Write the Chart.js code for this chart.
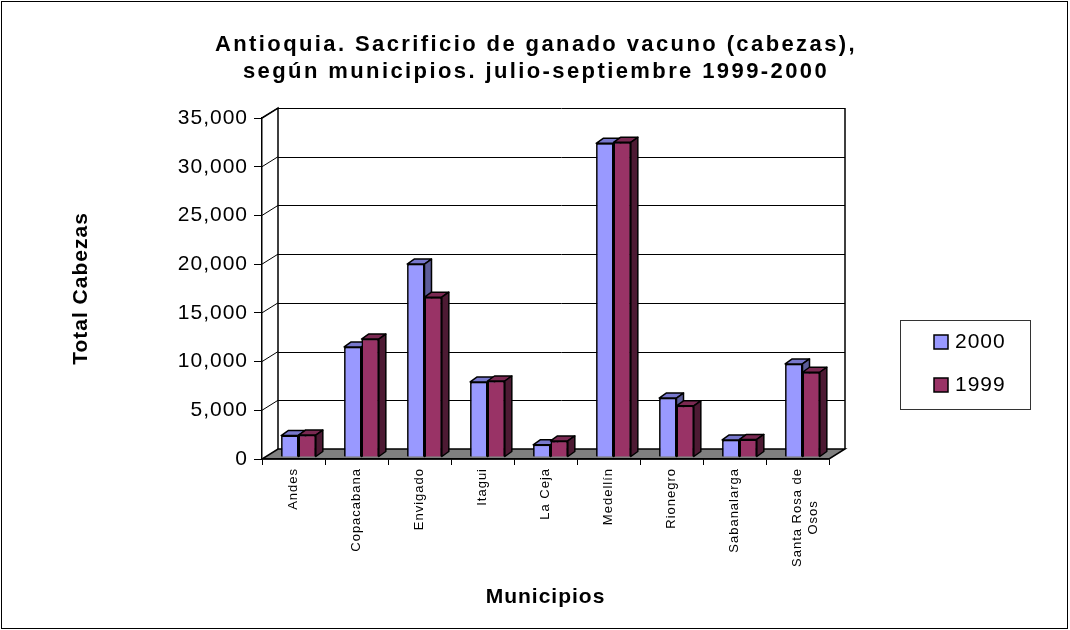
<!DOCTYPE html>
<html>
<head>
<meta charset="utf-8">
<script src="https://cdn.jsdelivr.net/npm/chart.js@4.4.1/dist/chart.umd.min.js"></script>
<style>
  html, body { margin: 0; padding: 0; background: #fff; }
  canvas { display: block; }
</style>
</head>
<body>
<canvas id="chart" width="1070" height="630"></canvas>
<script>
// ----- DATA -----
const municipios = ['Andes', 'Copacabana', 'Envigado', 'Itagui', 'La Ceja', 'Medellín', 'Rionegro', 'Sabanalarga', 'Santa Rosa de Osos'];
const cabezas2000 = [2200, 11300, 19800, 7700, 1250, 32200, 6050, 1750, 9550];
const cabezas1999 = [2250, 12100, 16400, 7800, 1650, 32300, 5250, 1800, 8700];
const seriesNames = ['2000', '1999'];
const titleLines = ['Antioquia. Sacrificio de ganado vacuno (cabezas),', 'según municipios. julio-septiembre 1999-2000'];
const yMax = 35000;
const yStep = 5000;

const FONT = '"Liberation Sans", Arial, sans-serif';

// 3d look
const WALL_DX = 16, WALL_DY = -10;
const BAR_DX = 7, BAR_DY = -5;
const SHIFT_X = 5, SHIFT_Y = -2;

const faceColors = [
  { front: '#9999ff', top: '#7777cc', side: '#5c5c99' },
  { front: '#993366', top: '#7a2952', side: '#4d1a33' }
];

function drawBarFaces(ctx, bar, col) {
  const { x, y, base, width } = bar.getProps(['x', 'y', 'base', 'width'], true);
  const l = x - width / 2, r = x + width / 2;
  // top face
  ctx.beginPath();
  ctx.moveTo(l, y);
  ctx.lineTo(l + BAR_DX, y + BAR_DY);
  ctx.lineTo(r + BAR_DX, y + BAR_DY);
  ctx.lineTo(r, y);
  ctx.closePath();
  ctx.fillStyle = col.top;
  ctx.fill();
  ctx.stroke();
  // side face
  ctx.beginPath();
  ctx.moveTo(r, y);
  ctx.lineTo(r + BAR_DX, y + BAR_DY);
  ctx.lineTo(r + BAR_DX, base + BAR_DY);
  ctx.lineTo(r, base);
  ctx.closePath();
  ctx.fillStyle = col.side;
  ctx.fill();
  ctx.stroke();
}

const box3d = {
  id: 'box3d',
  beforeDraw(chart) {
    const ctx = chart.ctx;
    const { left, right, top, bottom } = chart.chartArea;
    const yScale = chart.scales.y;
    ctx.save();
    ctx.fillStyle = '#fff';
    ctx.fillRect(0, 0, chart.width, chart.height);

    // floor
    ctx.beginPath();
    ctx.moveTo(left, bottom);
    ctx.lineTo(right, bottom);
    ctx.lineTo(right + WALL_DX, bottom + WALL_DY);
    ctx.lineTo(left + WALL_DX, bottom + WALL_DY);
    ctx.closePath();
    ctx.fillStyle = '#808080';
    ctx.fill();
    ctx.strokeStyle = '#000';
    ctx.lineWidth = 1.5;
    ctx.stroke();

    // gridlines on the back wall and the left side wall
    ctx.lineWidth = 1;
    for (let v = yStep; v <= yMax; v += yStep) {
      const fy = yScale.getPixelForValue(v);
      const py = Math.round(fy + WALL_DY) + 0.5;
      ctx.beginPath();
      ctx.moveTo(left + WALL_DX, py);
      ctx.lineTo(right + WALL_DX, py);
      ctx.moveTo(left, fy);
      ctx.lineTo(left + WALL_DX, fy + WALL_DY);
      ctx.stroke();
    }

    // wall edges
    ctx.lineWidth = 1.5;
    ctx.beginPath();
    ctx.moveTo(left, top);
    ctx.lineTo(left + WALL_DX, top + WALL_DY);
    ctx.lineTo(left + WALL_DX, bottom + WALL_DY);
    ctx.moveTo(right + WALL_DX, top + WALL_DY);
    ctx.lineTo(right + WALL_DX, bottom + WALL_DY);
    ctx.stroke();

    // outer frame
    ctx.lineWidth = 1;
    ctx.strokeRect(1.5, 1.5, chart.width - 4, chart.height - 3);

    // title
    ctx.fillStyle = '#000';
    ctx.font = 'bold 22px ' + FONT;
    ctx.letterSpacing = '2.4px';
    ctx.textAlign = 'center';
    ctx.textBaseline = 'middle';
    titleLines.forEach((line, i) => ctx.fillText(line, 536, 45 + i * 27));
    ctx.restore();

    // the original rendering is slightly letter-spaced everywhere
    ctx.letterSpacing = '1px';
  },
  beforeDatasetsDraw(chart) {
    chart.ctx.save();
    chart.ctx.translate(SHIFT_X, SHIFT_Y);
  },
  afterDatasetsDraw(chart) {
    // repaint bars series by series so each front face hides the previous side face
    const ctx = chart.ctx;
    ctx.lineJoin = 'round';
    chart.data.labels.forEach((_, j) => {
      chart.data.datasets.forEach((ds, i) => {
        const bar = chart.getDatasetMeta(i).data[j];
        bar.draw(ctx);
        ctx.strokeStyle = '#000';
        ctx.lineWidth = 1.5;
        drawBarFaces(ctx, bar, faceColors[i]);
      });
    });
    ctx.restore();
  },
  afterDraw(chart) {
    // legend box
    const ctx = chart.ctx;
    ctx.save();
    ctx.strokeStyle = '#333';
    ctx.lineWidth = 1;
    ctx.strokeRect(900.5, 320.5, 130, 89);
    ctx.font = '21px ' + FONT;
    ctx.textBaseline = 'middle';
    ctx.textAlign = 'left';
    seriesNames.forEach((name, i) => {
      const cy = 342 + i * 43;
      ctx.fillStyle = faceColors[i].front;
      ctx.fillRect(934, cy - 7, 14, 14);
      ctx.strokeStyle = '#000';
      ctx.lineWidth = 1.5;
      ctx.strokeRect(934, cy - 7, 14, 14);
      ctx.fillStyle = '#000';
      ctx.fillText(name, 955, cy);
    });
    ctx.restore();
  }
};

const ctx = document.getElementById('chart').getContext('2d');
new Chart(ctx, {
  type: 'bar',
  data: {
    labels: municipios,
    datasets: [
      {
        label: seriesNames[0],
        data: cabezas2000,
        backgroundColor: faceColors[0].front,
        borderColor: '#000',
        borderWidth: 1.5,
        clip: false
      },
      {
        label: seriesNames[1],
        data: cabezas1999,
        backgroundColor: faceColors[1].front,
        borderColor: '#000',
        borderWidth: 1.5,
        clip: false
      }
    ]
  },
  options: {
    responsive: false,
    animation: false,
    categoryPercentage: 0.55,
    barPercentage: 1.0,
    layout: { padding: { top: 118, left: 0, right: 0, bottom: 0 } },
    plugins: {
      legend: { display: false },
      tooltip: { enabled: false },
      title: { display: false }
    },
    scales: {
      x: {
        grid: { display: true, drawOnChartArea: false, color: '#000', tickLength: 6, offset: true },
        border: { display: true, color: '#000', width: 1.5 },
        ticks: {
          autoSkip: false,
          minRotation: 90,
          maxRotation: 90,
          padding: 3,
          color: '#000',
          font: { family: FONT, size: 13 },
          callback: function (value) {
            const label = this.getLabelForValue(value);
            if (label.length > 14) {
              // wrap and centre the second line under the first one
              const cut = label.lastIndexOf(' ');
              return [label.slice(0, cut), label.slice(cut + 1) + '\u00A0'.repeat(7)];
            }
            return label;
          }
        },
        title: {
          display: true,
          text: 'Municipios',
          color: '#000',
          font: { family: FONT, size: 21, weight: 'bold' },
          padding: { top: 0, bottom: 20 }
        },
        afterFit: s => { s.height = 171; }
      },
      y: {
        min: 0,
        max: yMax,
        grid: { display: true, drawOnChartArea: false, color: '#000', tickLength: 8 },
        border: { display: true, color: '#000', width: 1.5 },
        ticks: {
          stepSize: yStep,
          padding: 6,
          color: '#000',
          font: { family: FONT, size: 21 },
          callback: v => v.toLocaleString('en-US')
        },
        title: {
          display: true,
          text: 'Total Cabezas',
          color: '#000',
          font: { family: FONT, size: 21, weight: 'bold' },
          padding: { top: 69, bottom: 0 }
        },
        afterFit: s => { s.width = 262; }
      },
      spacer: {
        type: 'linear',
        position: 'right',
        display: true,
        grid: { display: false },
        border: { display: false },
        ticks: { display: false },
        afterFit: s => { s.width = 241; }
      }
    }
  },
  plugins: [box3d]
});
</script>
</body>
</html>
